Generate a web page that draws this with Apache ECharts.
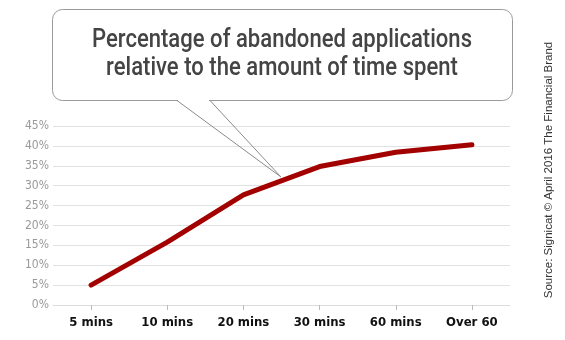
<!DOCTYPE html>
<html><head><meta charset="utf-8">
<script src="https://cdn.jsdelivr.net/npm/echarts@6/dist/echarts.min.js"></script>
<style>html,body{margin:0;padding:0;background:#fff}#c{width:565px;height:340px}</style>
</head><body><div id="c"></div>
<script>
const categories = ['5 mins', '10 mins', '20 mins', '30 mins', '60 mins', 'Over 60'];
const abandonedPct = [5, 15.8, 27.7, 34.8, 38.4, 40.3];
const yTicks = { min: 0, max: 45, interval: 5 };
const titleLines = ['Percentage of abandoned applications', 'relative to the amount of time spent'];
const sourceText = 'Source: Signicat \u00A9 April 2016 The Financial Brand';

const chart = echarts.init(document.getElementById('c'), null, { renderer: 'canvas' });

// measure to emulate condensed title font
const cv = document.createElement('canvas').getContext('2d');
const titleFont = '500 25px Roboto';
cv.font = titleFont;
const w1 = cv.measureText(titleLines[0]).width;
const sx = 380 / w1;
const cx = 282;

chart.setOption({
  animation: false,
  grid: { left: 53, right: 55, top: 126, bottom: 35 },
  xAxis: {
    type: 'category',
    data: categories,
    boundaryGap: true,
    axisLine: { show: true, lineStyle: { color: '#dcdcdc', width: 1 } },
    axisTick: { show: true, alignWithLabel: true, length: 5, lineStyle: { color: '#bbb' } },
    axisLabel: { color: '#111', fontSize: 13, fontWeight: 'bold', fontFamily: "'Liberation Sans Narrow', 'DejaVu Sans Condensed', 'Liberation Sans', sans-serif", margin: 11 }
  },
  yAxis: {
    type: 'value',
    min: yTicks.min, max: yTicks.max, interval: yTicks.interval,
    axisLine: { show: false }, axisTick: { show: false },
    splitLine: { lineStyle: { color: '#e2e2e2', width: 1 } },
    axisLabel: { color: '#999', fontSize: 12, fontFamily: "'Liberation Sans Narrow', 'DejaVu Sans Condensed', 'Liberation Sans', sans-serif", formatter: '{value}%', margin: 4 }
  },
  series: [{
    type: 'line',
    data: abandonedPct,
    symbol: 'none',
    lineStyle: { color: '#a30000', width: 5, cap: 'round', join: 'round' },
    z: 3
  }],
  graphic: [
    { type: 'rect', shape: { x: 52.5, y: 9.5, width: 460, height: 91, r: 10 },
      style: { fill: '#fff', stroke: '#9a9a9a', lineWidth: 1 }, z: 10 },
    { type: 'line', shape: { x1: 178, y1: 100.5, x2: 209, y2: 100.5 },
      style: { stroke: '#fff', lineWidth: 2 }, z: 11 },
    { type: 'polyline', shape: { points: [[177, 100.5], [281, 177], [210, 100.5]] },
      style: { stroke: '#8a8a8a', lineWidth: 1, fill: null }, z: 12 },
    { type: 'text', x: cx, y: 41, scaleX: sx, z: 13,
      style: { text: titleLines[0], font: titleFont, fill: '#444', align: 'center', verticalAlign: 'middle' } },
    { type: 'text', x: cx, y: 69, scaleX: sx, z: 13,
      style: { text: titleLines[1], font: titleFont, fill: '#444', align: 'center', verticalAlign: 'middle' } },
    { type: 'text', x: 549, y: 170, rotation: Math.PI / 2, z: 13,
      style: { text: sourceText, font: '11.5px "Liberation Sans", Arial, sans-serif', fill: '#333', align: 'center', verticalAlign: 'middle' } }
  ]
});
</script>
</body></html>
